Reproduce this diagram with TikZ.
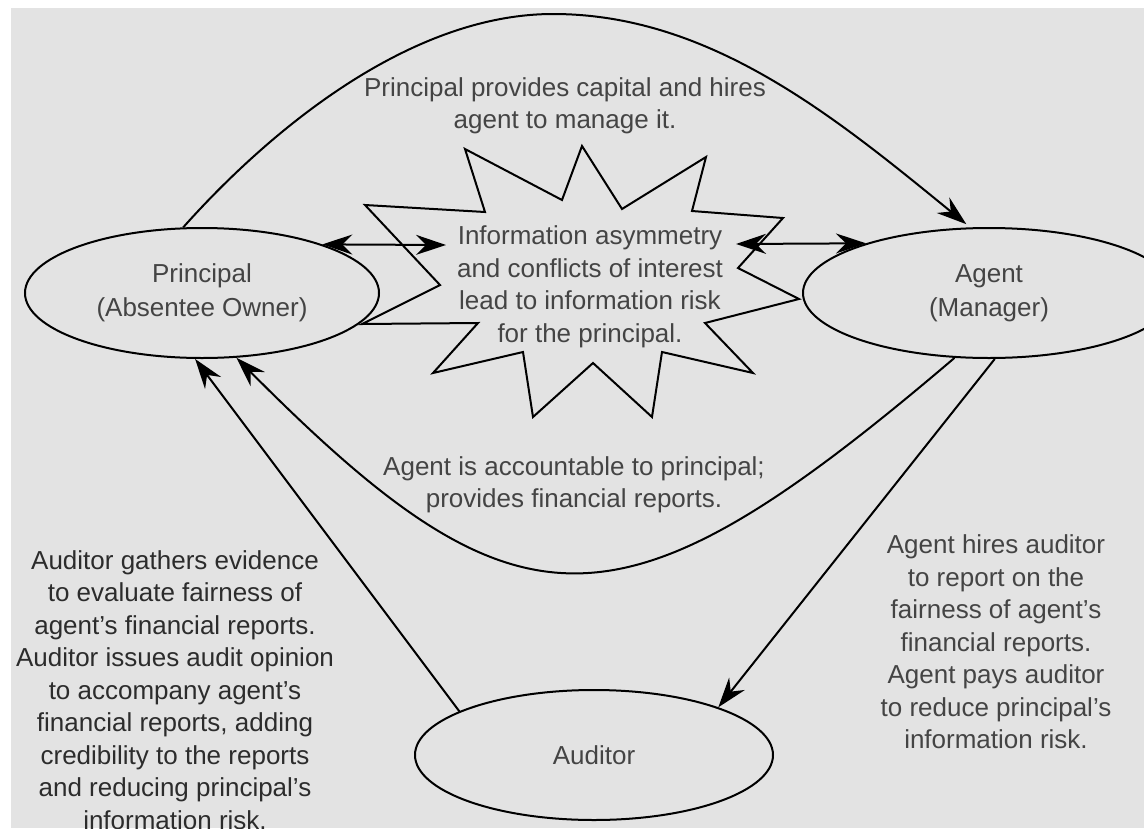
\documentclass[tikz,border=0pt]{standalone}
\usepackage{fontspec}
\setmainfont{Liberation Sans}
\usetikzlibrary{arrows.meta,shapes.geometric}
\definecolor{bg}{HTML}{E3E3E3}
\definecolor{txt}{HTML}{444444}
\definecolor{txtd}{HTML}{2C2C2C}
\begin{document}
\begin{tikzpicture}[x=1pt,y=-1pt,
  ell/.style={draw, line width=2pt, fill=bg, ellipse, inner sep=0pt, minimum height=130pt,
    text=txt, font=\fontsize{26}{34}\selectfont, align=center},
  lbl/.style={text=txt, font=\fontsize{26}{32.5}\selectfont, align=center, inner sep=0pt},
  tip/.tip={Stealth[length=30pt,width=20pt,inset=10pt]},
  con/.style={line width=2pt, -tip},
  dbl/.style={line width=2pt, tip-tip},
  burst/.style={line width=2pt, line join=miter, miter limit=20}
]
\useasboundingbox (0,0) rectangle (1144,828);
\fill[white] (0,0) rectangle (1144,828);
\fill[bg] (11,8) rectangle (1144,828);
\begin{scope}
\clip (11,8) rectangle (1144,828);
% starburst
\draw[burst] (365,205) -- (485,212) -- (465,149) -- (562,200) -- (582,146) -- (622,209)
  -- (706,157) -- (692,211) -- (783,218) -- (738,268) -- (799,299) -- (705,323)
  -- (753,373) -- (662,352) -- (652,417) -- (593,363) -- (533,417) -- (523,352)
  -- (433,373) -- (478,323) -- (362,324) -- (440,285) -- cycle;
% nodes
\node[ell, minimum width=354pt] (P) at (202,293) {Principal\\(Absentee Owner)};
\node[ell, minimum width=372pt] (A) at (989,293) {Agent\\(Manager)};
\node[ell, minimum width=358pt] (U) at (594,755) {Auditor};
\node[lbl] (T) at (565,106) {Principal provides capital and hires\\agent to manage it.};
\node[lbl] (I) at (590,287) {Information asymmetry\\and conflicts of interest\\lead to information risk\\for the principal.};
\node[lbl] (L) at (574,485) {Agent is accountable to principal;\\provides financial reports.};
\node[lbl, text=txtd] (LL) at (175,690) {Auditor gathers evidence\\to evaluate fairness of\\agent’s financial reports.\\Auditor issues audit opinion\\to accompany agent’s\\financial reports, adding\\credibility to the reports\\and reducing principal’s\\information risk.};
\node[lbl] (RR) at (996,642) {Agent hires auditor\\to report on the\\fairness of agent’s\\financial reports.\\Agent pays auditor\\to reduce principal’s\\information risk.};
\coordinate (iL) at (446,245);
\coordinate (iR) at (736,244);
\coordinate (top) at (553,14);
% connectors
\draw[con, shorten >=5pt] (P.106) .. controls (270,130) and (410,14) .. (top)
  .. controls (710,14) and (835,117) .. (A.106);
\draw[con] (A.242) .. controls (620,643) and (520,643) .. (P.298);
\draw[con] (U.162) -- (P.264);
\draw[con] (A.275) -- (U.21);
\draw[dbl] (P.22) -- (iL);
\draw[dbl] (iR) -- (A.158);
\end{scope}
\end{tikzpicture}
\end{document}
